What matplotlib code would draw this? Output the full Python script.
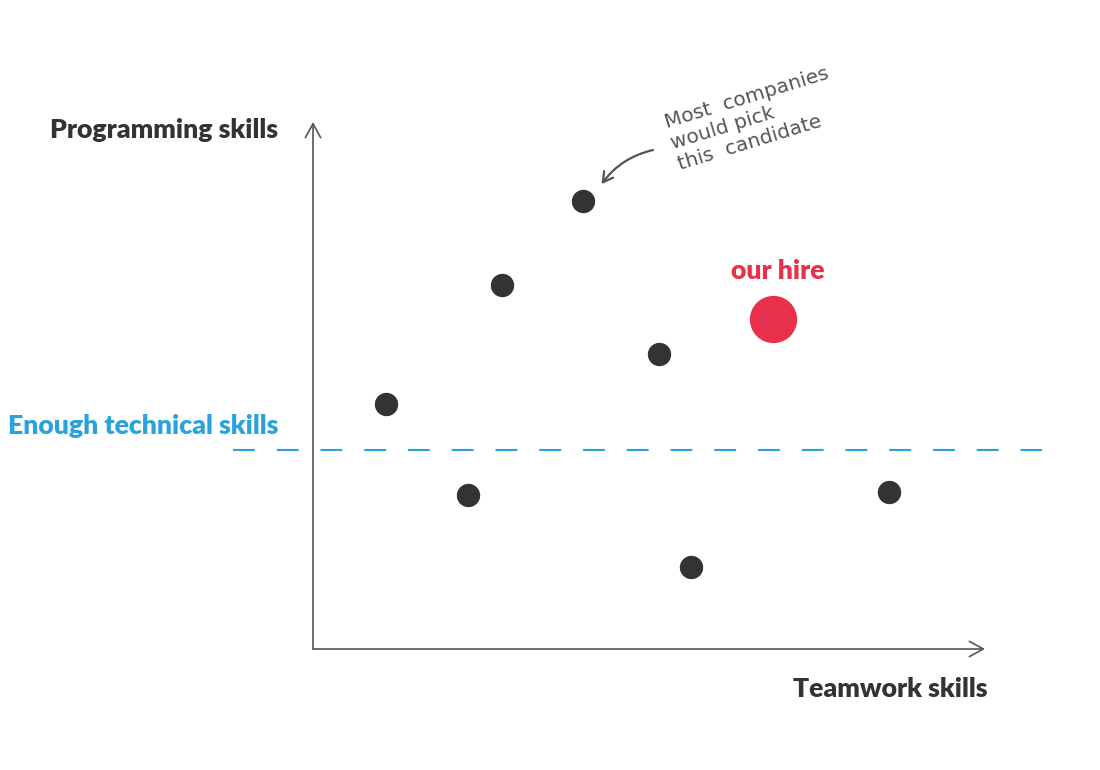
import matplotlib.pyplot as plt

# candidate positions (teamwork, programming) in arbitrary 0-10 skill units
teamwork = [1.09, 2.31, 2.81, 4.02, 5.15, 5.63, 8.57]
programming = [4.65, 2.92, 6.91, 8.50, 5.60, 1.56, 2.98]
hire_x, hire_y = 6.85, 6.26
threshold = 3.78

dark = '#333333'
red = '#e8304a'
blue = '#2aa3dc'
grey = '#555555'

fig = plt.figure(figsize=(11, 7.7), dpi=100)
ax = fig.add_axes([313 / 1100, 121 / 770, 672 / 1100, 527 / 770])
ax.set_xlim(0, 10)
ax.set_ylim(0, 10)
ax.axis('off')

# axes with open arrow heads
arrow = dict(arrowstyle='->,head_length=1.0,head_width=0.55', color=grey, lw=1.2,
             shrinkA=0, shrinkB=0)
ax.annotate('', xy=(10, 0), xytext=(0, 0), arrowprops=arrow, annotation_clip=False)
ax.annotate('', xy=(0, 10), xytext=(0, 0), arrowprops=arrow, annotation_clip=False)

# threshold line
ax.plot([-1.19, 10.85], [threshold, threshold], color=blue, lw=1.5,
        dashes=(10.5, 10.5), clip_on=False)

ax.scatter(teamwork, programming, s=250, color=dark, zorder=3, clip_on=False)
ax.scatter([hire_x], [hire_y], s=1090, color=red, zorder=3, clip_on=False)

font = 'Lato'
lab = dict(fontsize=19.2, fontweight='heavy', family=font, clip_on=False)
ax.text(-0.52, 9.70, 'Programming skills', ha='right', va='baseline', color=dark, **lab)
ax.text(10.03, -0.91, 'Teamwork skills', ha='right', va='baseline', color=dark, **lab)
ax.text(-0.52, 4.08, 'Enough technical skills', ha='right', va='baseline', color=blue, **lab)
ax.text(6.91, 7.02, 'our hire', ha='center', va='baseline', color=red, **lab)

# handwritten style note
ax.text(6.55, 10.06, 'Most  companies\nwould pick\nthis  candidate', ha='center',
        va='center', multialignment='left', fontsize=14.5, color=grey,
        family='DejaVu Sans', rotation=17, linespacing=1.2, clip_on=False)
ax.annotate('', xy=(4.27, 8.78), xytext=(5.1, 9.48),
            arrowprops=dict(arrowstyle='->,head_length=0.7,head_width=0.4', color=grey,
                            lw=1.6, connectionstyle='arc3,rad=0.2'),
            annotation_clip=False)

fig.savefig('out.png', dpi=100)
